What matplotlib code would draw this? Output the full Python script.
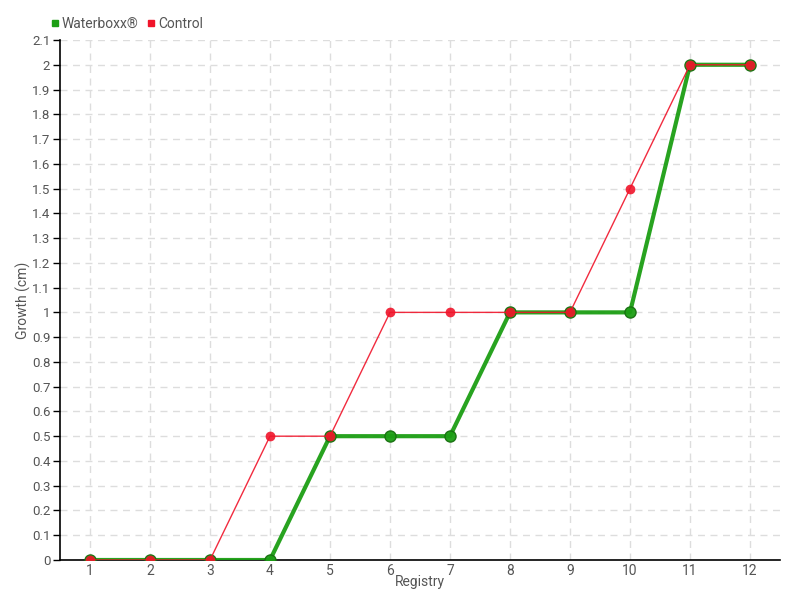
import matplotlib
matplotlib.use("Agg")
import matplotlib.pyplot as plt
from matplotlib.lines import Line2D

registry = [1, 2, 3, 4, 5, 6, 7, 8, 9, 10, 11, 12]
waterboxx = [0, 0, 0, 0, 0.5, 0.5, 0.5, 1, 1, 1, 2, 2]
control = [0, 0, 0, 0.5, 0.5, 1, 1, 1, 1, 1.5, 2, 2]
yticks = [round(i * 0.1, 1) for i in range(22)]
ytick_labels = ["0", "0.1", "0.2", "0.3", "0.4", "0.5", "0.6", "0.7", "0.8", "0.9", "1",
                "1.1", "1.2", "1.3", "1.4", "1.5", "1.6", "1.7", "1.8", "1.9", "2", "2.1"]

plt.rcParams['font.family'] = ['Roboto', 'DejaVu Sans']
txt = '#555555'

fig = plt.figure(figsize=(8, 6), dpi=100)
ax = fig.add_axes([60/800, 40/600, 720/800, 520/600])

green = '#1c9e14'
red = '#f0142a'
ax.plot(registry, waterboxx, color=green, lw=3, marker='o', ms=8,
        markerfacecolor=green, markeredgecolor='#17700f', markeredgewidth=1, zorder=3, alpha=0.95)
ax.plot(registry, control, color=red, lw=1, marker='o', ms=6.5,
        markerfacecolor=red, markeredgecolor=red, markeredgewidth=0.5, zorder=4, alpha=0.9)

ax.set_xlim(0.5, 12.5)
ax.set_ylim(0, 2.1)
ax.set_xticks(registry)
ax.set_xticklabels([str(r) for r in registry], color=txt, fontsize=10)
ax.set_yticks(yticks)
ax.set_yticklabels(ytick_labels, color=txt, fontsize=9.5)
ax.tick_params(axis='x', length=0, pad=3)
ax.tick_params(axis='y', length=5, width=1, color='black', pad=2)

ax.grid(True, color='#dddddd', linestyle=(0, (5, 4)), lw=1)
ax.set_axisbelow(True)
for s in ['top', 'right']:
    ax.spines[s].set_visible(False)
ax.spines['left'].set_linewidth(1.2)
ax.spines['bottom'].set_linewidth(1.2)

ax.set_xlabel('Registry', color=txt, fontsize=10, labelpad=-2)
ax.set_ylabel('Growth (cm)', color=txt, fontsize=10)
ax.yaxis.set_label_coords(-29/720, 0.5)

handles = [Line2D([], [], ls='', marker='s', ms=5, color=green),
           Line2D([], [], ls='', marker='s', ms=5, color=red)]
leg = fig.legend(handles, ['Waterboxx®', 'Control'], loc='upper left',
                 bbox_to_anchor=(38/800, 1 - 4/600), ncol=2, frameon=False,
                 handlelength=0.6, handletextpad=0.2, columnspacing=0.6, fontsize=10)
for t in leg.get_texts():
    t.set_color(txt)

fig.savefig('out.png', dpi=100)
